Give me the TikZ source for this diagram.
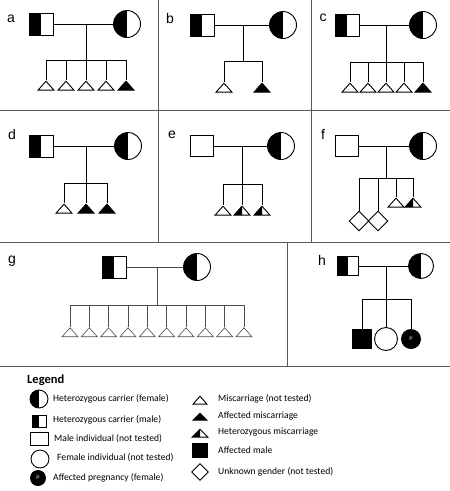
\documentclass[tikz,border=0pt]{standalone}
\usepackage{fontspec}
\setmainfont{Liberation Sans}
\newfontfamily\legendfont{Carlito}
\usetikzlibrary{shapes.geometric,calc}
\tikzset{
  pedline/.style={line width=0.9pt,draw=black},
  thinline/.style={line width=0.6pt,draw=black!70},
  gridline/.style={line width=1pt,draw=black!65},
  halffill/.style={path picture={\fill[black] (path picture bounding box.south west) rectangle (path picture bounding box.north);}},
  carriermale/.style={draw,line width=0.9pt,minimum width=24pt,minimum height=22pt,inner sep=0pt,halffill},
  carrierfemale/.style={circle,draw,line width=0.9pt,minimum size=27pt,inner sep=0pt,halffill},
  malebox/.style={draw,line width=0.9pt,minimum width=23pt,minimum height=21pt,inner sep=0pt},
  femalebox/.style={circle,draw,line width=0.9pt,minimum size=24pt,inner sep=0pt},
  affmale/.style={draw,fill=black,minimum size=19pt,inner sep=0pt},
  pregnant/.style={circle,fill=black,text=white,minimum size=20pt,inner sep=0pt,font=\fontsize{5}{5}\selectfont},
  unknown/.style={diamond,draw,line width=0.9pt,minimum size=20pt,inner sep=0pt},
  misc/.style={isosceles triangle,shape border rotate=90,isosceles triangle stretches,minimum width=16pt,minimum height=9pt,inner sep=0pt,draw,line width=0.9pt,anchor=apex},
  affmisc/.style={misc,fill=black},
  hetmisc/.style={misc,path picture={\fill[black] (path picture bounding box.south west) -- (path picture bounding box.north) -- (path picture bounding box.south) -- cycle;}},
  panellabel/.style={font=\fontsize{14}{14}\selectfont,inner sep=0pt},
  legendtext/.style={font=\legendfont\fontsize{9.6}{10}\selectfont,anchor=west,inner sep=0pt}
}
\begin{document}
\begin{tikzpicture}[x=1pt,y=-1pt]
  \useasboundingbox (0,0) rectangle (450,491);
  % grid
  \draw[gridline] (0,110) -- (450,110);
  \draw[gridline] (0,242) -- (450,242);
  \draw[gridline] (0,366) -- (450,366);
  \draw[gridline] (158,0) -- (158,242);
  \draw[gridline] (311,0) -- (311,242);
  \draw[gridline] (287,242) -- (287,366);

  % a
  \node[panellabel] (la) at (11,19) {a};
  \node[carriermale] (fa) at (41,24) {};
  \node[carrierfemale] (ma) at (127,24) {};
  \draw[pedline] (fa) -- (ma);
  \coordinate (da) at (86,24);
  \foreach \x/\s [count=\i] in {46/misc,66/misc,86/misc,106/misc,126/affmisc}{
    \coordinate (sa\i) at (\x,60);
    \node[\s] (ca\i) at (\x,80) {};
    \draw[pedline] (sa\i) -- (ca\i.apex);
  }
  \draw[pedline] (sa1) -- (sa5);
  \draw[pedline] (da) -- (da |- sa1);

  % b
  \node[panellabel] (lb) at (170,18) {b};
  \node[carriermale] (fb) at (202,25) {};
  \node[carrierfemale] (mb) at (283,25) {};
  \draw[pedline] (fb) -- (mb);
  \coordinate (db) at (243,25);
  \foreach \x/\s [count=\i] in {224/misc,262/affmisc}{
    \coordinate (sb\i) at (\x,61);
    \node[\s] (cb\i) at (\x,82) {};
    \draw[pedline] (sb\i) -- (cb\i.apex);
  }
  \draw[pedline] (sb1) -- (sb2);
  \draw[pedline] (db) -- (db |- sb1);

  % c
  \node[panellabel] (lc) at (323,18) {c};
  \node[carriermale] (fc) at (347,25) {};
  \node[carrierfemale] (mc) at (423,25) {};
  \draw[pedline] (fc) -- (mc);
  \coordinate (dc) at (386,25);
  \foreach \x/\s [count=\i] in {350/misc,368/misc,386/misc,404/misc,423/affmisc}{
    \coordinate (sc\i) at (\x,62);
    \node[\s] (cc\i) at (\x,82) {};
    \draw[pedline] (sc\i) -- (cc\i.apex);
  }
  \draw[pedline] (sc1) -- (sc5);
  \draw[pedline] (dc) -- (dc |- sc1);

  % d
  \node[panellabel] (ld) at (12,134) {d};
  \node[carriermale] (fd) at (41,146) {};
  \node[carrierfemale] (md) at (128,146) {};
  \draw[pedline] (fd) -- (md);
  \coordinate (dd) at (86,146);
  \foreach \x/\s [count=\i] in {64/misc,86/affmisc,107/affmisc}{
    \coordinate (sd\i) at (\x,183);
    \node[\s] (cd\i) at (\x,203) {};
    \draw[pedline] (sd\i) -- (cd\i.apex);
  }
  \draw[pedline] (sd1) -- (sd3);
  \draw[pedline] (dd) -- (dd |- sd1);

  % e
  \node[panellabel] (le) at (172,135) {e};
  \node[malebox] (fe) at (202,146) {};
  \node[carrierfemale] (me) at (281,146) {};
  \draw[pedline] (fe) -- (me);
  \coordinate (de) at (242,146);
  \foreach \x/\s [count=\i] in {223/misc,242/hetmisc,262/hetmisc}{
    \coordinate (se\i) at (\x,184);
    \node[\s] (ce\i) at (\x,205) {};
    \draw[pedline] (se\i) -- (ce\i.apex);
  }
  \draw[pedline] (se1) -- (se3);
  \draw[pedline] (de) -- (de |- se1);

  % f
  \node[panellabel] (lf) at (323,134) {f};
  \node[malebox] (ff) at (347,146) {};
  \node[carrierfemale] (mf) at (423,146) {};
  \draw[pedline] (ff) -- (mf);
  \coordinate (df) at (386,146);
  \foreach \x [count=\i] in {359,378}{
    \coordinate (sf\i) at (\x,178);
    \node[unknown] (cf\i) at (\x,221) {};
    \draw[pedline] (sf\i) -- (cf\i.north);
  }
  \foreach \x/\s [count=\i from 3] in {396/misc,413/hetmisc}{
    \coordinate (sf\i) at (\x,178);
    \node[\s] (cf\i) at (\x,197) {};
    \draw[pedline] (sf\i) -- (cf\i.apex);
  }
  \draw[pedline] (sf1) -- (sf4);
  \draw[pedline] (df) -- (df |- sf1);

  % g
  \node[panellabel] (lg) at (12,261) {g};
  \node[carriermale] (fg) at (114,267) {};
  \node[carrierfemale] (mg) at (197,267) {};
  \draw[thinline] (fg) -- (mg);
  \coordinate (dg) at (157,267);
  \foreach \i in {1,...,10}{
    \pgfmathsetmacro{\xg}{70+19.33*(\i-1)}
    \coordinate (sg\i) at (\xg,305);
    \node[misc,line width=0.6pt,draw=black!70] (cg\i) at (\xg,327) {};
    \draw[thinline] (sg\i) -- (cg\i.apex);
  }
  \draw[thinline] (sg1) -- (sg10);
  \draw[thinline] (dg) -- (dg |- sg1);

  % h
  \node[panellabel] (lh) at (322,260) {h};
  \node[carriermale,minimum width=21pt,minimum height=19pt] (fh) at (348,266) {};
  \node[carrierfemale,minimum size=25pt] (mh) at (421,266) {};
  \draw[pedline] (fh) -- (mh);
  \coordinate (dh) at (386,266);
  \node[affmale] (ch1) at (362,339) {};
  \node[femalebox,minimum size=23pt] (ch2) at (386,339) {};
  \node[pregnant] (ch3) at (411,339) {P};
  \foreach \i/\x in {1/362,2/386,3/411}{
    \coordinate (sh\i) at (\x,299);
    \draw[pedline] (sh\i) -- (ch\i.north);
  }
  \draw[pedline] (sh1) -- (sh3);
  \draw[pedline] (dh) -- (dh |- sh1);

  % legend
  \node[font=\legendfont\bfseries\fontsize{12.5}{13}\selectfont,anchor=west,inner sep=0pt] (lgd) at (27,380) {Legend};
  \node[carrierfemale,minimum size=18pt] (k1) at (39,399) {};
  \node[legendtext] (t1) at (53,399) {Heterozygous carrier (female)};
  \node[carriermale,minimum width=14pt,minimum height=12pt] (k2) at (39,421) {};
  \node[legendtext] (t2) at (53,420) {Heterozygous carrier (male)};
  \node[malebox,minimum width=18pt,minimum height=13pt] (k3) at (39,439) {};
  \node[legendtext] (t3) at (54,439) {Male individual (not tested)};
  \node[femalebox,minimum size=18pt] (k4) at (40,459) {};
  \node[legendtext] (t4) at (57,458) {Female individual (not tested)};
  \node[pregnant,minimum size=16pt] (k5) at (38,478) {P};
  \node[legendtext] (t5) at (53,478) {Affected pregnancy (female)};
  \node[misc,minimum width=14pt,minimum height=8pt] (k6) at (200,395) {};
  \node[legendtext] (t6) at (218,399) {Miscarriage (not tested)};
  \node[affmisc,minimum width=14pt,minimum height=7pt] (k7) at (200,412) {};
  \node[legendtext] (t7) at (218,416) {Affected miscarriage};
  \node[hetmisc,minimum width=16pt,minimum height=8pt] (k8) at (200,428) {};
  \node[legendtext] (t8) at (218,432) {Heterozygous miscarriage};
  \node[affmale,minimum width=15pt,minimum height=14pt] (k9) at (200,450) {};
  \node[legendtext] (t9) at (218,450) {Affected male};
  \node[unknown,minimum size=17pt] (k10) at (200,472) {};
  \node[legendtext] (t10) at (218,472) {Unknown gender (not tested)};
\end{tikzpicture}
\end{document}
